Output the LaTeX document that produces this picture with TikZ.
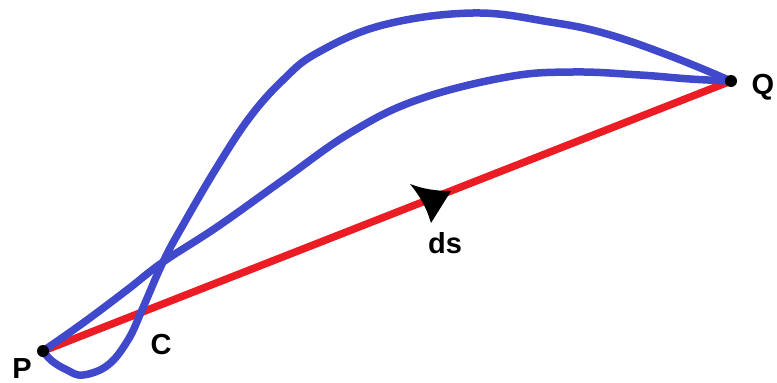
\documentclass[tikz,border=0pt]{standalone}
\usepackage{fontspec}
\setmainfont{Liberation Sans}
\definecolor{curveblue}{RGB}{64,72,204}
\definecolor{chordred}{RGB}{236,28,36}
\begin{document}
\begin{tikzpicture}[x=1pt,y=-1pt,
  pathcurve/.style={draw=curveblue, line width=7.5pt, line cap=round, line join=round},
  chordline/.style={draw=chordred, line width=7.5pt},
  pointdot/.style={circle, fill=black, inner sep=0pt, minimum size=12pt},
  lbl/.style={font=\bfseries\fontsize{29}{29}\selectfont, anchor=base, inner sep=0pt}]
\useasboundingbox (0,0) rectangle (777,383);
\coordinate (P) at (43,351);
\coordinate (Q) at (731,81);
% chord P-Q
\draw[chordline] (P) -- (Q);
% upper curve with loop
\draw[pathcurve] plot[smooth, tension=0.65] coordinates {(P) (52,361) (67,370) (83,375) (108,365) (128,340) (142,310) (163,262) (183,225) (217,167) (250,117) (283,80) (317,53) (383,25) (473,13) (550,22) (607,34) (673,57) (Q)};
% lower curve
\draw[pathcurve] plot[smooth, tension=0.65] coordinates {(P) (83,323) (127,290) (163,262) (217,227) (283,180) (350,133) (417,100) (507,77) (573,72) (640,75) (690,79) (Q)};
% arrowhead on chord
\fill[black] (410,184) .. controls (423,189) and (436,191) .. (451,191) -- (431,223) .. controls (426,206) and (419,195) .. cycle;
% dots
\node[pointdot] (Pdot) at (P) {};
\node[pointdot] (Qdot) at (Q) {};
% labels
\node[lbl] (Plbl) at (22,378) {P};
\node[lbl] (Qlbl) at (763,94) {Q};
\node[lbl] (Clbl) at (161,354) {C};
\node[lbl] (dslbl) at (445,253) {ds};
\end{tikzpicture}
\end{document}
